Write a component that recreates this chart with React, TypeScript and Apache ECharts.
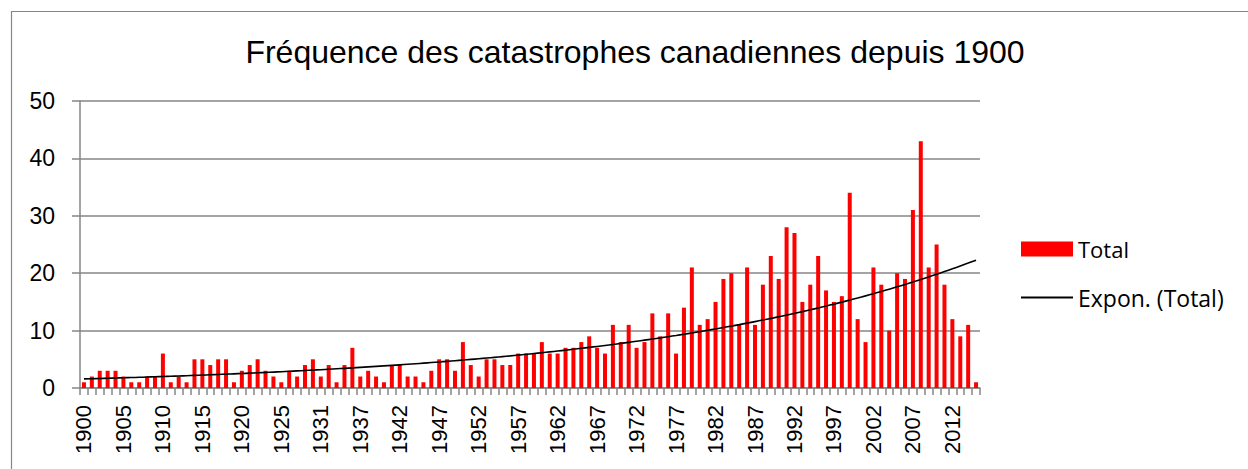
import React, { useEffect, useRef } from "react";
import * as echarts from "echarts";

const years: string[] = [
  "1900","1901","1902","1903","1904","1905","1906","1907","1908","1909",
  "1910","1911","1912","1913","1914","1915","1916","1917","1918","1919",
  "1920","1921","1922","1923","1924","1925","1927","1928","1929","1930",
  "1931","1932","1933","1934","1935","1937","1938","1939","1940","1941",
  "1942","1943","1944","1945","1946","1947","1948","1949","1950","1951",
  "1952","1953","1954","1955","1956","1957","1958","1959","1960","1961",
  "1962","1963","1964","1965","1966","1967","1968","1969","1970","1971",
  "1972","1973","1974","1975","1976","1977","1978","1979","1980","1981",
  "1982","1983","1984","1985","1986","1987","1988","1989","1990","1991",
  "1992","1993","1994","1995","1996","1997","1998","1999","2000","2001",
  "2002","2003","2004","2005","2006","2007","2008","2009","2010","2011",
  "2012","2013","2014","2015"
];

const totals: number[] = [
  1,2,3,3,3,2,1,1,2,2,6,1,2,1,
  5,5,4,5,5,1,3,4,5,3,2,1,3,2,4,
  5,2,4,1,4,7,2,3,2,1,4,4,2,2,1,
  3,5,5,3,8,4,2,5,5,4,4,6,6,6,
  8,6,6,7,7,8,9,7,6,11,8,11,7,8,13,
  9,13,6,14,21,11,12,15,19,20,11,21,11,18,
  23,19,28,27,15,18,23,17,15,16,34,12,8,21,
  18,10,20,19,31,43,21,25,18,12,9,11,1
];

const yTicks = { min: 0, max: 50, interval: 10 };
const titleText = "Fréquence des catastrophes canadiennes depuis 1900";
const barName = "Total";
const trendName = "Expon. (Total)";

// Exponential trendline (least squares on ln y), as a spreadsheet computes it
function expTrend(vals: number[]): number[] {
  const n = vals.length;
  let sx = 0, sy = 0, sxx = 0, sxy = 0;
  vals.forEach((v, i) => {
    const x = i + 1;
    const y = Math.log(v);
    sx += x; sy += y; sxx += x * x; sxy += x * y;
  });
  const b = (n * sxy - sx * sy) / (n * sxx - sx * sx);
  const a = (sy - b * sx) / n;
  return vals.map((_, i) => Math.exp(a + b * (i + 1)));
}

export default function App() {
  const ref = useRef<HTMLDivElement>(null);
  useEffect(() => {
    if (!ref.current) return;
    const chart = echarts.init(ref.current, null, { renderer: "svg" });
    const trend = expTrend(totals);
    const gray = "#868686";
    chart.setOption({
      animation: false,
      backgroundColor: "#ffffff",
      title: {
        text: titleText,
        left: 630,
        textAlign: "center",
        top: 31,
        textStyle: {
          fontFamily: "Liberation Sans",
          fontSize: 32,
          fontWeight: "normal",
          color: "#000",
        },
      },
      graphic: [
        {
          type: "rect",
          shape: { x: 11.5, y: 11.5, width: 1400, height: 600 },
          style: { fill: "none", stroke: gray, lineWidth: 1.2 },
          silent: true,
          z: -1,
        },
      ],
      legend: [
        {
          data: [barName],
          left: 1021,
          top: 238,
          padding: 0,
          itemWidth: 52,
          itemHeight: 15,
          itemGap: 0,
          icon: "rect",
          textStyle: { fontFamily: "Open Sans", fontSize: 22, color: "#000" },
        },
        {
          data: [trendName],
          left: 1021,
          top: 286,
          padding: 0,
          itemWidth: 52,
          itemHeight: 2,
          icon: "rect",
          itemStyle: { color: "#000" },
          textStyle: { fontFamily: "Open Sans", fontSize: 23, color: "#000" },
        },
      ],
      grid: { left: 80, top: 101, width: 900, height: 287, containLabel: false },
      xAxis: {
        type: "category",
        data: years,
        boundaryGap: true,
        axisLine: { lineStyle: { color: gray, width: 1.5 } },
        axisTick: { show: true, interval: 0, length: 7, lineStyle: { color: gray, width: 1.5 } },
        axisLabel: {
          interval: 4,
          rotate: 90,
          margin: 17,
          fontFamily: "Liberation Sans",
          fontSize: 22,
          color: "#000",
        },
      },
      yAxis: {
        type: "value",
        min: yTicks.min,
        max: yTicks.max,
        interval: yTicks.interval,
        axisLine: { show: true, lineStyle: { color: gray, width: 1.5 } },
        axisTick: { show: true, length: 8, lineStyle: { color: gray, width: 1.5 } },
        splitLine: { show: true, lineStyle: { color: gray, width: 1.5 } },
        axisLabel: {
          margin: 25,
          fontFamily: "Liberation Sans",
          fontSize: 23,
          color: "#000",
        },
      },
      series: [
        {
          name: barName,
          type: "bar",
          data: totals,
          barWidth: 4,
          itemStyle: { color: "#ff0000" },
          z: 2,
        },
        {
          name: trendName,
          type: "line",
          data: trend,
          showSymbol: false,
          symbol: "none",
          smooth: true,
          lineStyle: { color: "#000", width: 1.6 },
          itemStyle: { color: "#000" },
          z: 3,
        },
      ],
    });
    return () => chart.dispose();
  }, []);
  return (
    <div
      ref={ref}
      style={{ position: "fixed", left: 0, top: 0, width: 1248, height: 469 }}
    />
  );
}
